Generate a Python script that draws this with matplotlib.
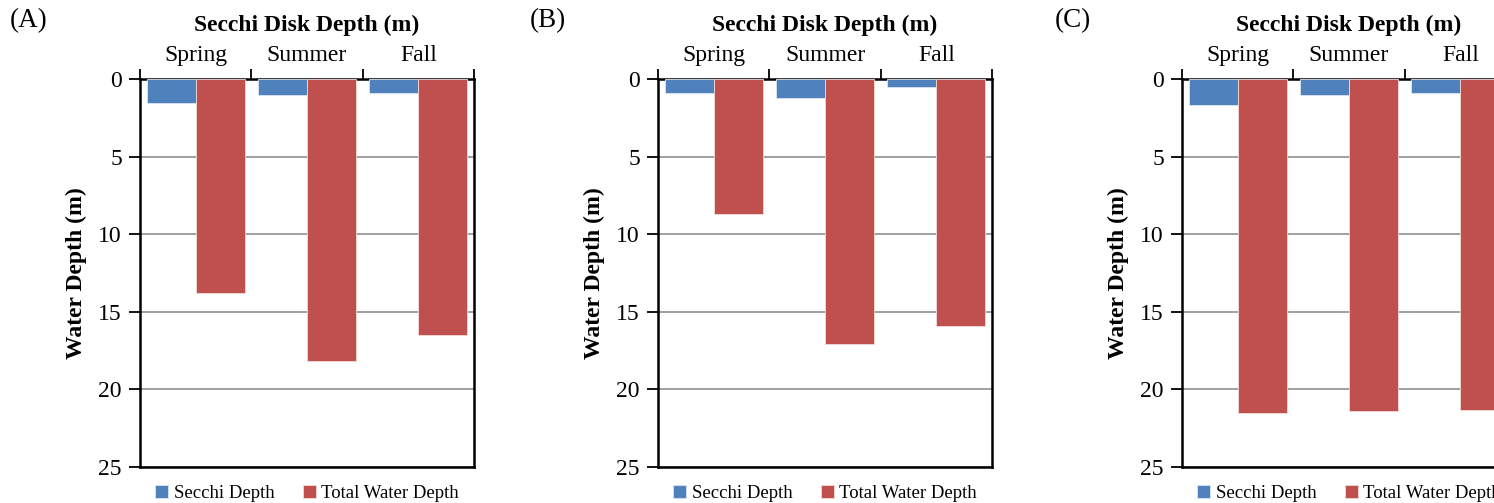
import matplotlib.pyplot as plt
from matplotlib.ticker import FixedLocator, NullFormatter

plt.rcParams['font.family'] = ['Liberation Serif', 'DejaVu Serif']

# Depth data per lake, in metres
seasons = ['Spring', 'Summer', 'Fall']
panel_labels = ['(A)', '(B)', '(C)']
secchi_a = [1.55, 1.0, 0.9]
total_a = [13.8, 18.2, 16.5]
secchi_b = [0.9, 1.2, 0.5]
total_b = [8.7, 17.1, 15.9]
secchi_c = [1.7, 1.0, 0.9]
total_c = [21.5, 21.4, 21.3]

secchi_sets = [secchi_a, secchi_b, secchi_c]
total_sets = [total_a, total_b, total_c]

blue = '#4F81BD'
red = '#C0504D'

W, H = 1494, 503
fig = plt.figure(figsize=(W / 100, H / 100), dpi=100)

# axes left edges in pixels; the last panel runs past the figure edge
lefts = [140, 658, 1182]
ax_w = 334
top_px, bot_px = 79, 467
label_x = [10, 530, 1055]

for k in range(3):
    ax = fig.add_axes([lefts[k] / W, 1 - bot_px / H, ax_w / W, (bot_px - top_px) / H])
    x = range(len(seasons))
    ax.bar([i - 0.22 for i in x], secchi_sets[k], width=0.44, color=blue,
           edgecolor='#DCE6F2', linewidth=0.6, label='Secchi Depth', zorder=3)
    ax.bar([i + 0.22 for i in x], total_sets[k], width=0.44, color=red,
           edgecolor='#F2DCDB', linewidth=0.6, label='Total Water Depth', zorder=3)

    ax.set_xlim(-0.5, 2.5)
    ax.set_ylim(25, 0)
    ax.set_yticks([0, 5, 10, 15, 20, 25])
    ax.yaxis.grid(True, color='#868686', linewidth=1.1, zorder=0)

    # category boundaries get tick marks, labels sit between them
    ax.xaxis.tick_top()
    ax.xaxis.set_major_locator(FixedLocator([-0.5, 0.5, 1.5, 2.5]))
    ax.xaxis.set_major_formatter(NullFormatter())
    ax.xaxis.set_minor_locator(FixedLocator([0, 1, 2]))
    ax.set_xticklabels(seasons, minor=True)
    ax.tick_params(axis='x', which='major', length=7, width=1.3, direction='out')
    ax.tick_params(axis='x', which='minor', length=0, pad=9.5, labelsize=17)
    ax.tick_params(axis='y', length=8, width=1.3, direction='out', pad=5, labelsize=17)

    ax.xaxis.set_label_position('top')
    ax.set_xlabel('Secchi Disk Depth (m)', fontsize=17, fontweight='bold', labelpad=10)
    ax.set_ylabel('Water Depth (m)', fontsize=17, fontweight='bold', labelpad=8)

    for s in ax.spines.values():
        s.set_color('black')
        s.set_linewidth(1.8)

    ax.legend(loc='upper center', bbox_to_anchor=(0.5, 0.0), ncol=2, frameon=False,
              fontsize=13.5, handlelength=0.7, handleheight=0.7, handletextpad=0.3,
              columnspacing=1.5, borderaxespad=0.55)

    fig.text(label_x[k] / W, 1 - 21 / H, panel_labels[k], fontsize=19.5, va='center', ha='left')

fig.savefig('out.png', dpi=100)
